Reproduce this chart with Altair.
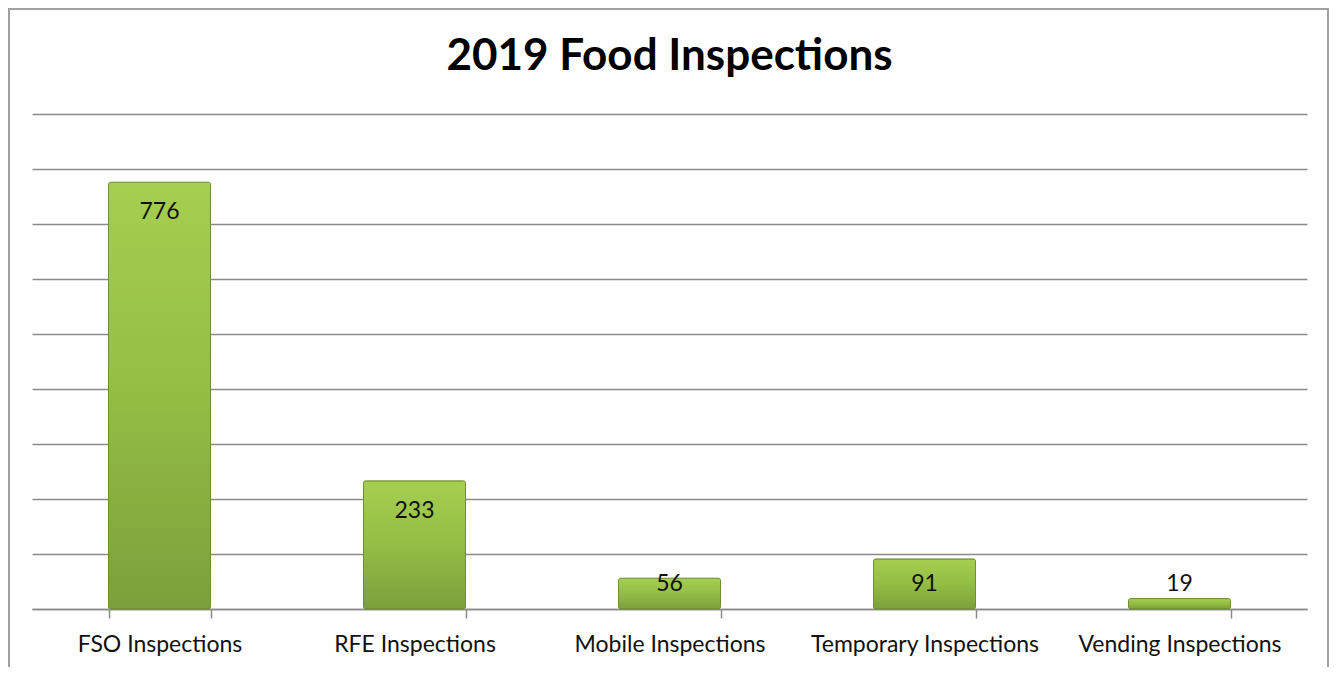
import altair as alt
import pandas as pd

categories = ["FSO Inspections", "RFE Inspections", "Mobile Inspections",
              "Temporary Inspections", "Vending Inspections"]
values = [776, 233, 56, 91, 19]
y_ticks = [0, 100, 200, 300, 400, 500, 600, 700, 800, 900]
title_text = "2019 Food Inspections"

df = pd.DataFrame({"category": categories, "value": values})

W, H = 1275, 495
PL, PT, PR, PB = 24, 106, 22, 58

x_enc = alt.X("category:N", sort=categories, title=None,
              scale=alt.Scale(paddingInner=0.6, paddingOuter=0.3),
              axis=alt.Axis(labelAngle=0, labelFont="Lato", labelFontSize=23,
                            labelColor="#111111", labelPadding=15, labelLimit=400,
                            tickBand="extent", tickSize=9, tickColor="#8a8a8a",
                            tickWidth=1.5, domainColor="#8a8a8a", domainWidth=1.5,
                            grid=False))
y_enc = alt.Y("value:Q", title=None,
              scale=alt.Scale(domain=[0, 900], nice=False),
              axis=alt.Axis(values=y_ticks, labels=False, ticks=False, domain=False,
                            grid=True, gridColor="#8a8a8a", gridWidth=1.5))

green = alt.Gradient(
    gradient="linear", x1=0, x2=0, y1=0, y2=1,
    stops=[alt.GradientStop(color="#a6cf50", offset=0),
           alt.GradientStop(color="#93bd45", offset=0.5),
           alt.GradientStop(color="#7d9f3b", offset=1)])

bars = alt.Chart(df).mark_bar(color=green, stroke="#6f8f30", strokeWidth=1,
                              cornerRadius=2).encode(x=x_enc, y=y_enc)

labels = alt.Chart(df).transform_calculate(
    label_pos="datum.value > 150 ? datum.value - 54 : 46"
).mark_text(font="Lato", fontSize=23, color="#111111", baseline="middle").encode(
    x=alt.X("category:N", sort=categories),
    y=alt.Y("label_pos:Q", scale=alt.Scale(domain=[0, 900], nice=False)),
    text="value:Q")

border = alt.Chart(df).mark_rect(fill=None, stroke="#a0a0a0", strokeWidth=2,
                                 clip=False).encode(
    x=alt.value(-PL + 1), x2=alt.value(W + PR - 1),
    y=alt.value(-PT + 1), y2=alt.value(H + PB + 20))

title = alt.Chart(pd.DataFrame({"t": [title_text]})).mark_text(
    font="Lato", fontSize=44, fontWeight="bold", color="#000000",
    align="center", baseline="alphabetic", clip=False).encode(
    x=alt.value(W / 2), y=alt.value(-44), text="t:N")

chart = alt.layer(bars, labels, border, title).properties(
    width=W, height=H,
    autosize=alt.AutoSizeParams(type="none"),
    padding={"left": PL, "top": PT, "right": PR, "bottom": PB},
    background="white",
).configure_view(stroke=None)

chart.save("out.html", embed_options={"renderer": "svg", "actions": False})
